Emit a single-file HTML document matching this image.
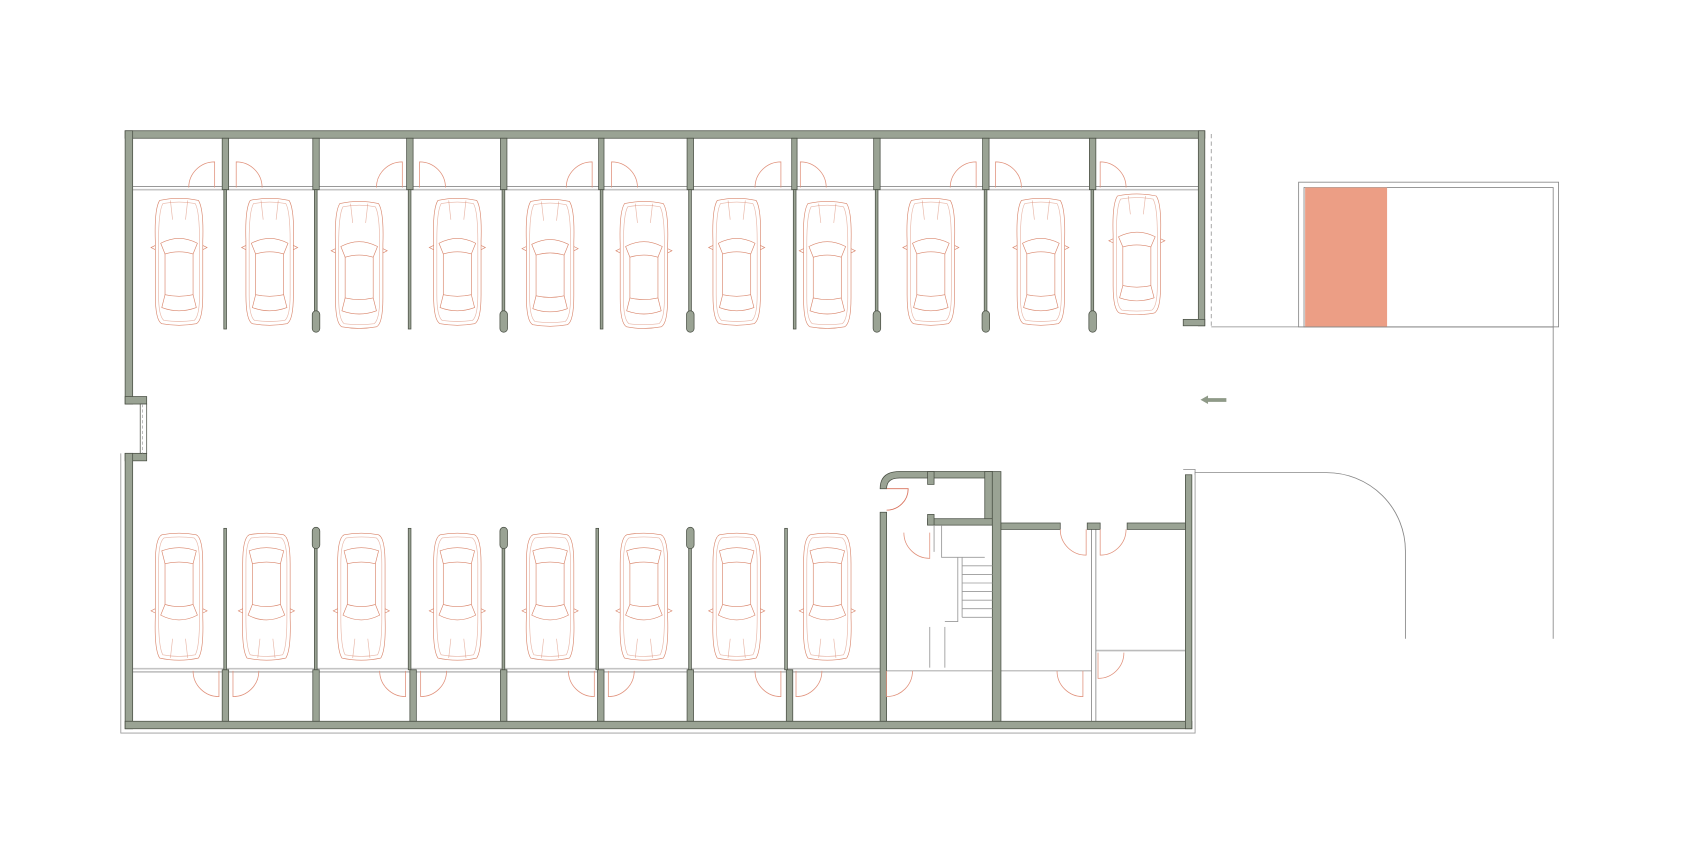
<!DOCTYPE html>
<html><head><meta charset="utf-8"><style>html,body{margin:0;padding:0;background:#fff}svg{display:block}</style></head>
<body>
<svg width="1692" height="864" viewBox="0 0 1568.7 806.2" preserveAspectRatio="none" xmlns="http://www.w3.org/2000/svg">
<defs>
<g id="car" fill="none" stroke="#d9866c" stroke-width="0.6">
<path d="M-18,-58 Q0,-62 18,-58 Q23,-50 22,-20 L22,30 Q22,54 16,57 Q0,60 -16,57 Q-22,54 -22,30 L-22,-20 Q-23,-50 -18,-58 Z"/>
<path d="M-15,-55 Q0,-58 15,-55 Q19,-48 19,-20 L19,30 Q19,50 14,54 Q0,56 -14,54 Q-19,50 -19,30 L-19,-20 Q-19,-48 -15,-55 Z" stroke-opacity="0.6"/>
<path d="M-17,-18 Q0,-27 17,-18 L13,-8 Q0,-12 -13,-8 Z"/>
<path d="M-13,-8 L-13,30 M13,-8 L13,30"/>
<path d="M-13,30 Q0,33 13,30 L16,42 Q0,48 -16,42 Z"/>
<path d="M-22,-16 L-26,-14 L-22,-12 M22,-16 L26,-14 L22,-12"/>
<path d="M-8,-58 L-6,-40 M8,-58 L6,-40" stroke-opacity="0.6"/>
</g>
<g id="dl" fill="none" stroke="#e0907a" stroke-width="0.7"><path d="M0,0 L0,-24 A24,24 0 0 0 -24,0"/></g>
<g id="dr" fill="none" stroke="#e0907a" stroke-width="0.7"><path d="M0,0 L0,-24 A24,24 0 0 1 24,0"/></g>
<g id="bl" fill="none" stroke="#e0907a" stroke-width="0.7"><path d="M0,0 L0,24 A24,24 0 0 1 -24,0"/></g>
<g id="br" fill="none" stroke="#e0907a" stroke-width="0.7"><path d="M0,0 L0,24 A24,24 0 0 0 24,0"/></g>
</defs>

<!-- thin outer outlines -->
<g fill="none" stroke="#999" stroke-width="0.8">
<path d="M112,423 L112,684 L1108,684 L1108,440"/>
<path d="M1097,438 L1108,438 L1108,443"/>
<line x1="1123" y1="125" x2="1123" y2="304" stroke-dasharray="4,3"/>
</g>

<!-- partition lines (double) -->
<g stroke="#8a8a8a" stroke-width="0.8">
<line x1="123" y1="174" x2="1111" y2="174"/><line x1="123" y1="177" x2="1111" y2="177" stroke="#c4c4c4" stroke-width="1.5"/>
<line x1="123" y1="624" x2="820" y2="624" stroke="#c4c4c4" stroke-width="1.5"/><line x1="123" y1="627" x2="820" y2="627"/>
<line x1="822" y1="626" x2="920" y2="626"/>
<line x1="928" y1="626" x2="1012" y2="626"/>
<line x1="1016" y1="607" x2="1099" y2="607" stroke="#bbb" stroke-width="1.5"/>
<line x1="1012" y1="494" x2="1012" y2="673"/><line x1="1016" y1="494" x2="1016" y2="673"/>
</g>

<g fill="#9aa394" stroke="#4a5045" stroke-width="0.7">
<!-- outer walls -->
<rect x="116" y="122" width="1001" height="7"/>
<rect x="116" y="122" width="7" height="255"/>
<rect x="116" y="370" width="20" height="7"/>
<rect x="116" y="423" width="20" height="7"/>
<rect x="116" y="423" width="7" height="257"/>
<rect x="116" y="673" width="989" height="7"/>
<rect x="1111" y="122" width="6" height="182"/>
<rect x="1097" y="298" width="20" height="6"/>
<rect x="1099" y="443" width="6" height="237"/>
<!-- top storage walls -->
<rect x="206" y="129" width="6" height="48"/>
<rect x="290" y="129" width="6" height="48"/>
<rect x="377" y="129" width="6" height="48"/>
<rect x="464" y="129" width="6" height="48"/>
<rect x="555" y="129" width="5" height="48"/>
<rect x="637" y="129" width="6" height="48"/>
<rect x="734" y="129" width="5" height="48"/>
<rect x="810" y="129" width="6" height="48"/>
<rect x="911" y="129" width="6" height="48"/>
<rect x="1010" y="129" width="6" height="48"/>
<!-- top thin partitions -->
<rect x="207.5" y="177" width="2.5" height="130"/>
<rect x="378.5" y="177" width="2.5" height="130"/>
<rect x="556.5" y="177" width="2.5" height="130"/>
<rect x="735.5" y="177" width="2.5" height="130"/>
<rect x="291.5" y="177" width="2.5" height="115"/>
<rect x="465.5" y="177" width="2.5" height="115"/>
<rect x="638.5" y="177" width="2.5" height="115"/>
<rect x="811.5" y="177" width="2.5" height="115"/>
<rect x="912.5" y="177" width="2.5" height="115"/>
<rect x="1011.5" y="177" width="2.5" height="115"/>
<rect x="289.5" y="290" width="7" height="20" rx="3.5"/>
<rect x="463.5" y="290" width="7" height="20" rx="3.5"/>
<rect x="636.5" y="290" width="7" height="20" rx="3.5"/>
<rect x="809.5" y="290" width="7" height="20" rx="3.5"/>
<rect x="910.5" y="290" width="7" height="20" rx="3.5"/>
<rect x="1009.5" y="290" width="7" height="20" rx="3.5"/>
<!-- bottom thin partitions -->
<rect x="207.5" y="493" width="2.5" height="132"/>
<rect x="378.5" y="493" width="2.5" height="132"/>
<rect x="552.5" y="493" width="2.5" height="132"/>
<rect x="727.5" y="493" width="2.5" height="132"/>
<rect x="291.5" y="505" width="2.5" height="120"/>
<rect x="465.5" y="505" width="2.5" height="120"/>
<rect x="638.5" y="505" width="2.5" height="120"/>
<rect x="289.5" y="492" width="7" height="20" rx="3.5"/>
<rect x="463.5" y="492" width="7" height="20" rx="3.5"/>
<rect x="636.5" y="492" width="7" height="20" rx="3.5"/>
<!-- bottom storage walls -->
<rect x="206" y="625" width="6" height="48"/>
<rect x="290" y="625" width="6" height="48"/>
<rect x="380" y="625" width="6" height="48"/>
<rect x="464" y="625" width="6" height="48"/>
<rect x="554" y="625" width="6" height="48"/>
<rect x="637" y="625" width="6" height="48"/>
<rect x="729" y="625" width="6" height="48"/>
<!-- stair core -->
<path d="M816,673 L816,478 L822,478 L822,673 Z"/>
<path d="M816,456 Q816,440 834,440 L920,440 L920,446 L834,446 Q822,446 822,456 Z"/>
<rect x="860" y="440" width="6" height="12"/>
<rect x="913" y="440" width="7" height="50"/>
<rect x="860" y="484" width="60" height="6"/>
<rect x="860" y="480" width="6" height="10"/>
<rect x="920" y="440" width="8" height="233"/>
<rect x="928" y="488" width="55" height="6"/>
<rect x="1008" y="488" width="12" height="6"/>
<rect x="1045" y="488" width="54" height="6"/>
</g>
<!-- window notch -->
<rect x="130" y="377" width="6" height="46" fill="#fff" stroke="#4a5045" stroke-width="0.7"/>
<line x1="132" y1="377" x2="132" y2="423" stroke="#999" stroke-dasharray="3,2" stroke-width="0.6"/>

<!-- stairs -->
<g stroke="#9a9a9a" stroke-width="0.8" fill="none">
<path d="M866,490 L866,515 M873,490 L873,520 L913,520"/>
<path d="M888,520 L888,580 L876,580 M892,520 L892,576"/>
<line x1="892" y1="528" x2="920" y2="528"/><line x1="892" y1="536" x2="920" y2="536"/>
<line x1="892" y1="544" x2="920" y2="544"/><line x1="892" y1="552" x2="920" y2="552"/>
<line x1="892" y1="560" x2="920" y2="560"/><line x1="892" y1="568" x2="920" y2="568"/>
<line x1="892" y1="576" x2="920" y2="576"/>
<line x1="862" y1="585" x2="862" y2="623"/><line x1="876" y1="585" x2="876" y2="623"/>
</g>

<!-- doors top -->
<use href="#dl" x="199" y="175"/><use href="#dr" x="219" y="175"/>
<use href="#dl" x="373" y="175"/><use href="#dr" x="389" y="175"/>
<use href="#dl" x="549" y="175"/><use href="#dr" x="567" y="175"/>
<use href="#dl" x="724" y="175"/><use href="#dr" x="742" y="175"/>
<use href="#dl" x="905" y="175"/><use href="#dr" x="923" y="175"/>
<use href="#dr" x="1020" y="175"/>
<!-- doors bottom -->
<use href="#bl" x="203" y="626"/><use href="#br" x="216" y="626"/>
<use href="#bl" x="376" y="626"/><use href="#br" x="390" y="626"/>
<use href="#bl" x="551" y="626"/><use href="#br" x="564" y="626"/>
<use href="#bl" x="724" y="626"/><use href="#br" x="738" y="626"/>
<use href="#br" x="822" y="626"/>
<use href="#bl" x="1004" y="626"/>
<use href="#br" x="1018" y="609"/>
<use href="#bl" x="1007" y="494"/><use href="#br" x="1020" y="494"/>
<use href="#bl" x="862" y="497"/>
<g fill="none" stroke="#d9705a" stroke-width="0.8"><path d="M822,456 L842,456 A20,20 0 0 1 822,476"/></g>

<!-- cars top -->
<use href="#car" x="166" y="245"/><use href="#car" x="250" y="245"/><use href="#car" x="333" y="248"/>
<use href="#car" x="424" y="245"/><use href="#car" x="510" y="246"/><use href="#car" x="597" y="248"/>
<use href="#car" x="683" y="245"/><use href="#car" x="767" y="248"/><use href="#car" x="863" y="245"/>
<use href="#car" x="965" y="245"/><use href="#car" transform="translate(1054,238) scale(1,0.95)"/>
<!-- cars bottom (flipped) -->
<g transform="translate(0,1112) scale(1,-1)">
<use href="#car" x="166" y="556"/><use href="#car" x="247" y="556"/><use href="#car" x="335" y="556"/>
<use href="#car" x="424" y="556"/><use href="#car" x="510" y="556"/><use href="#car" x="597" y="556"/>
<use href="#car" x="683" y="556"/><use href="#car" x="767" y="556"/>
</g>

<!-- arrow -->
<path d="M1113,373 L1120,369 L1120,371.5 L1137,371.5 L1137,375 L1120,375 L1120,377 Z" fill="#8f9a88"/>

<!-- canopy / ramp -->
<rect x="1204" y="170" width="241" height="135" fill="none" stroke="#888" stroke-width="0.8"/>
<rect x="1209" y="175" width="231" height="130" fill="none" stroke="#888" stroke-width="0.8"/>
<rect x="1210" y="175" width="76" height="130" fill="#ec9e85"/>
<g fill="none" stroke="#888" stroke-width="0.8">
<line x1="1123" y1="305" x2="1440" y2="305"/>
<line x1="1440" y1="305" x2="1440" y2="596"/>
<path d="M1108,441 L1230,441 A73,73 0 0 1 1303,514 L1303,596"/>
</g>
</svg>
</body></html>
